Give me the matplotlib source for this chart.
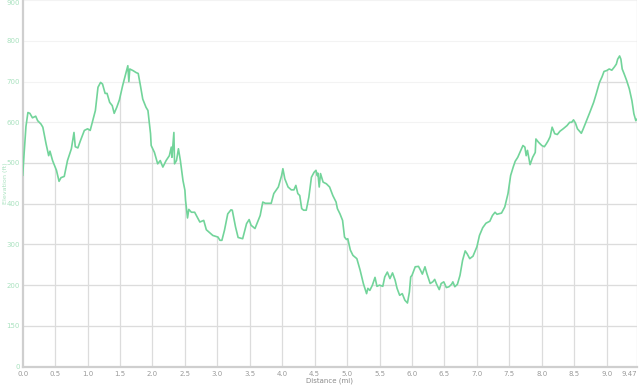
import numpy as np
import matplotlib
matplotlib.use("Agg")
from matplotlib import pyplot as plt
from matplotlib.patches import Polygon

# distance (mi) and elevation (ft)
distance = [0.00, 0.02, 0.05, 0.08, 0.11, 0.15, 0.20, 0.23, 0.28, 0.31, 0.36, 0.40, 0.42, 0.46,
            0.52, 0.56, 0.59, 0.64, 0.69, 0.75, 0.79, 0.81, 0.85, 0.89, 0.95, 1.00, 1.04, 1.08,
            1.12, 1.16, 1.20, 1.23, 1.27, 1.30, 1.34, 1.38, 1.41, 1.45, 1.49, 1.54, 1.58, 1.62,
            1.636, 1.65, 1.70, 1.75, 1.78, 1.81, 1.85, 1.90, 1.93, 1.97, 1.98, 2.03, 2.08, 2.12,
            2.16, 2.21, 2.26, 2.29, 2.30, 2.33, 2.34, 2.37, 2.40, 2.43, 2.47, 2.50, 2.51, 2.54,
            2.56, 2.60, 2.65, 2.73, 2.79, 2.83, 2.93, 3.01, 3.04, 3.07, 3.11, 3.16, 3.21, 3.23,
            3.28, 3.32, 3.39, 3.41, 3.45, 3.49, 3.52, 3.58, 3.63, 3.66, 3.70, 3.74, 3.83, 3.87,
            3.94, 3.99, 4.01, 4.04, 4.09, 4.14, 4.18, 4.21, 4.24, 4.27, 4.30, 4.33, 4.37, 4.41,
            4.45, 4.49, 4.52, 4.54, 4.55, 4.57, 4.59, 4.63, 4.68, 4.73, 4.78, 4.83, 4.85, 4.89,
            4.93, 4.96, 4.99, 5.01, 5.05, 5.09, 5.15, 5.20, 5.25, 5.30, 5.32, 5.35, 5.39, 5.43,
            5.46, 5.50, 5.55, 5.58, 5.62, 5.66, 5.70, 5.74, 5.77, 5.81, 5.85, 5.89, 5.93, 5.96,
            5.98, 6.00, 6.05, 6.10, 6.13, 6.16, 6.20, 6.23, 6.28, 6.32, 6.35, 6.38, 6.42, 6.45,
            6.49, 6.53, 6.57, 6.61, 6.63, 6.66, 6.70, 6.74, 6.78, 6.82, 6.85, 6.89, 6.94, 7.00,
            7.04, 7.09, 7.14, 7.20, 7.24, 7.28, 7.31, 7.38, 7.43, 7.48, 7.52, 7.56, 7.59, 7.63,
            7.71, 7.74, 7.76, 7.78, 7.82, 7.86, 7.90, 7.91, 7.95, 8.00, 8.04, 8.07, 8.10, 8.13,
            8.16, 8.20, 8.24, 8.28, 8.33, 8.39, 8.43, 8.46, 8.49, 8.52, 8.55, 8.61, 8.64, 8.69,
            8.74, 8.80, 8.84, 8.89, 8.93, 8.96, 9.00, 9.04, 9.08, 9.12, 9.15, 9.17, 9.20, 9.22,
            9.24, 9.27, 9.31, 9.35, 9.39, 9.42, 9.45, 9.47]
elevation = [470, 520, 590, 624, 622, 611, 615, 604, 596, 588, 547, 518, 529, 506,
             482, 455, 464, 467, 506, 535, 575, 540, 537, 555, 580, 584, 580, 604,
             629, 686, 698, 694, 671, 671, 649, 641, 622, 637, 655, 690, 715, 739,
             700, 731, 727, 722, 720, 694, 657, 637, 629, 572, 543, 526, 498, 506,
             490, 506, 518, 539, 514, 575, 498, 506, 535, 506, 457, 433, 408, 365,
             386, 379, 379, 355, 359, 336, 322, 318, 310, 310, 335, 375, 385, 384,
             343, 317, 314, 326, 351, 361, 347, 339, 359, 371, 404, 401, 401, 425,
             441, 469, 486, 461, 441, 434, 434, 445, 425, 420, 388, 384, 384, 416,
             465, 477, 482, 469, 475, 441, 474, 453, 449, 441, 420, 404, 388, 375,
             359, 318, 312, 314, 286, 273, 265, 237, 204, 179, 192, 187, 200, 219,
             197, 200, 197, 220, 232, 216, 230, 212, 192, 175, 179, 163, 156, 183,
             220, 224, 245, 246, 237, 227, 245, 228, 204, 208, 214, 202, 189, 204,
             208, 194, 196, 202, 208, 196, 202, 224, 261, 284, 277, 265, 271, 294,
             322, 341, 352, 357, 371, 379, 374, 377, 392, 425, 469, 490, 504, 514,
             543, 539, 518, 531, 496, 514, 526, 559, 551, 543, 540, 547, 555, 565,
             588, 572, 570, 578, 584, 592, 600, 600, 606, 598, 584, 573, 584, 604,
             624, 649, 670, 698, 712, 725, 727, 731, 728, 736, 743, 755, 763, 755,
             731, 719, 702, 682, 653, 621, 604, 608]

x_ticks = [0.0, 0.5, 1.0, 1.5, 2.0, 2.5, 3.0, 3.5, 4.0, 4.5, 5.0, 5.5, 6.0, 6.5, 7.0, 7.5,
           8.0, 8.5, 9.0, 9.47]
x_labels = ["0.0", "0.5", "1.0", "1.5", "2.0", "2.5", "3.0", "3.5", "4.0", "4.5", "5.0", "5.5",
            "6.0", "6.5", "7.0", "7.5", "8.0", "8.5", "9.0", "9.47"]
y_ticks = [0, 100, 200, 300, 400, 500, 600, 700, 800, 900]
y_labels = ["0", "150", "200", "300", "400", "500", "600", "700", "800", "900"]

GREEN = "#72d49a"
LABEL_GREEN = "#a9e2bf"
GRID = "#dcdcdc"

fig = plt.figure(figsize=(6.4, 3.86), dpi=100)
ax = fig.add_axes([0.0355, 0.0505, 0.96, 0.949])
ax.set_xlim(0, 9.47)
ax.set_ylim(0, 900)

# area under the profile, used to clip the darker grid
under = Polygon(np.column_stack([[distance[0]] + distance + [distance[-1]],
                                 [0] + elevation + [0]]),
                closed=True, facecolor="none", edgecolor="none")
ax.add_patch(under)

ax.hlines(y_ticks[1:], 0, 9.47, colors="#f3f3f3", lw=0.8, zorder=1)
hl = ax.hlines(y_ticks[1:], 0, 9.47, colors=GRID, lw=0.9, zorder=1.5)
vl = ax.vlines(x_ticks[1:-1], 0, 900, colors=GRID, lw=0.9, zorder=1.5)
hl.set_clip_path(under.get_path(), under.get_transform())
vl.set_clip_path(under.get_path(), under.get_transform())
ax.axvline(9.47, color="#e6e6e6", lw=1.0, zorder=1)

ax.plot(distance, elevation, color=GREEN, lw=1.2, zorder=3, solid_joinstyle="round")

ax.set_xticks(x_ticks)
ax.set_xticklabels(x_labels)
ax.set_yticks(y_ticks)
ax.set_yticklabels(y_labels)
ax.tick_params(axis="x", length=0, pad=3, labelsize=5, labelcolor="#9a9a9a")
ax.tick_params(axis="y", length=0, pad=2, labelsize=5, labelcolor=LABEL_GREEN)
ax.get_xticklabels()[-1].set_ha("right")
ax.get_yticklabels()[-1].set_va("top")

for s in ["top", "right"]:
    ax.spines[s].set_visible(False)
ax.spines["left"].set_color("#cfcfcf")
ax.spines["left"].set_linewidth(1.6)
ax.spines["bottom"].set_color("#cfcfcf")
ax.spines["bottom"].set_linewidth(1.6)

fig.text(0.5155, 0.0125, "Distance (mi)", ha="center", va="center", fontsize=5, color="#8a8a8a")
fig.text(0.009, 0.526, "Elevation (ft)", ha="center", va="center", rotation=90,
         fontsize=4.6, color=LABEL_GREEN)

fig.savefig("out.png", dpi=100)
